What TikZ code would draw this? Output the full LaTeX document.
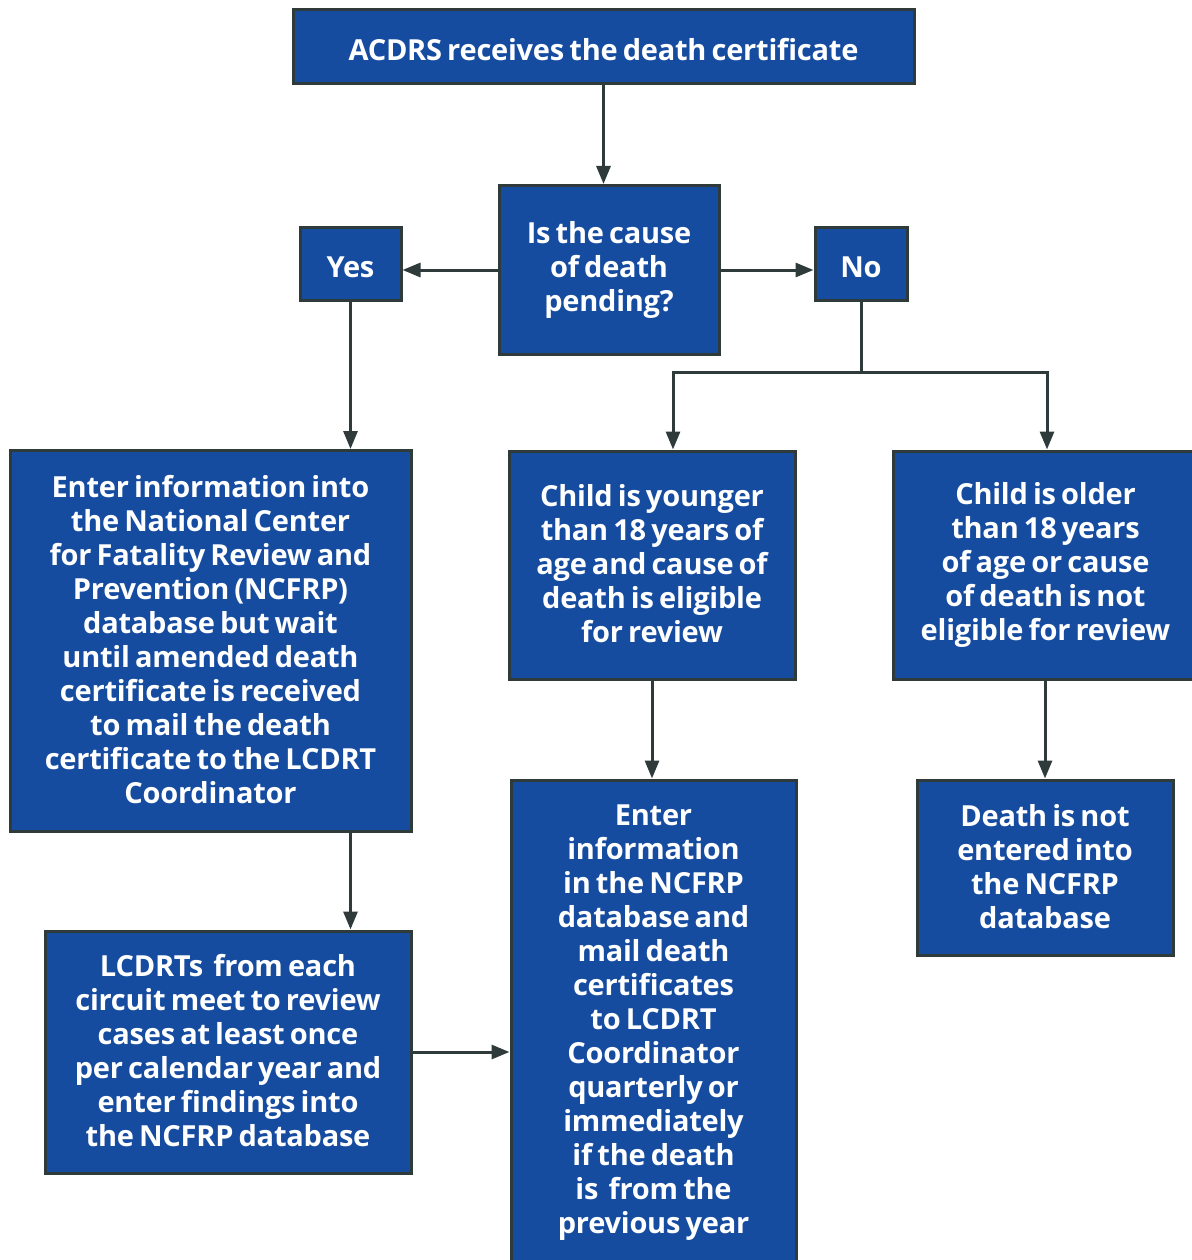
\documentclass[tikz,border=0pt]{standalone}
\usepackage{fontspec}
\setmainfont{Open Sans}[LetterSpace=-0.8,WordSpace=0.7]
\usetikzlibrary{arrows.meta}
\definecolor{boxblue}{RGB}{22,76,160}
\definecolor{edge}{RGB}{47,58,58}
\newcommand\bxstrut{\rule[-3pt]{0pt}{34pt}}
\tikzset{
  box/.style={draw=edge, line width=3pt, fill=boxblue, text=white, align=center,
    font=\fontsize{29}{34}\selectfont\bfseries, inner sep=0pt,
    execute at begin node=\bxstrut, execute at end node=\bxstrut},
  arr/.style={draw=edge, line width=3pt, -{Triangle[length=18pt,width=14pt]}},
  ln/.style={draw=edge, line width=3pt}
}
\begin{document}
\begin{tikzpicture}[x=1pt,y=-1pt]
\useasboundingbox (0,0) rectangle (1191,1260);
\node[box, minimum width=621pt, minimum height=74pt] (top) at (603.5,47) {ACDRS receives the death certificate};
\node[box, minimum width=220pt, minimum height=169pt] (q) at (609,270) {Is the cause\\of death\\pending?};
\node[box, minimum width=101pt, minimum height=73pt] (yes) at (350.5,263.5) {Yes};
\node[box, minimum width=92pt, minimum height=73pt] (no) at (861,263.5) {No};
\node[box, minimum width=401pt, minimum height=381pt] (left) at (210.5,641) {Enter information into\\the National Center\\for Fatality Review and\\Prevention (NCFRP)\\database but wait\\until amended death\\certificate is received\\to mail the death\\certificate to the LCDRT\\Coordinator};
\node[box, minimum width=286pt, minimum height=228pt] (mid) at (652,565) {Child is younger\\than 18 years of\\age and cause of\\death is eligible\\for review};
\node[box, minimum width=305pt, minimum height=228pt] (right) at (1045.5,565) {Child is older\\than 18 years\\of age or cause\\of death is not\\eligible for review};
\node[box, minimum width=366pt, minimum height=242pt] (lcdrt) at (228,1052) {LCDRTs\ \ from each\\circuit meet to review\\cases at least once\\per calendar year and\\enter findings into\\the NCFRP database};
\node[box, minimum width=285pt, minimum height=486pt] (enter) at (653.5,1023) {Enter\\information\\in the NCFRP\\database and\\mail death\\certificates\\to LCDRT\\Coordinator\\quarterly or\\immediately\\if the death\\is\ \ from the\\previous year};
\node[box, minimum width=256pt, minimum height=175pt] (dn) at (1045,867.5) {Death is not\\entered into\\the NCFRP\\database};
\coordinate (bl) at (673,372);
\coordinate (br) at (1047,372);
\draw[arr] (top.south) -- (top.south |- q.north);
\draw[arr] (q.west) -- (q.west -| yes.east);
\draw[arr] (q.east) -- (q.east -| no.west);
\draw[arr] (yes.south) -- (yes.south |- left.north);
\draw[ln] (no.south) -- (no.south |- bl);
\draw[arr] (no.south |- bl) -- (bl) -- (bl |- mid.north);
\draw[arr] (no.south |- bl) -- (br) -- (br |- right.north);
\draw[arr] (mid.south) -- (mid.south |- enter.north);
\draw[arr] (right.south -| dn.north) -- (dn.north);
\draw[arr] (yes.south |- left.south) -- (yes.south |- lcdrt.north);
\draw[arr] (lcdrt.east) -- (lcdrt.east -| enter.west);
\end{tikzpicture}
\end{document}
